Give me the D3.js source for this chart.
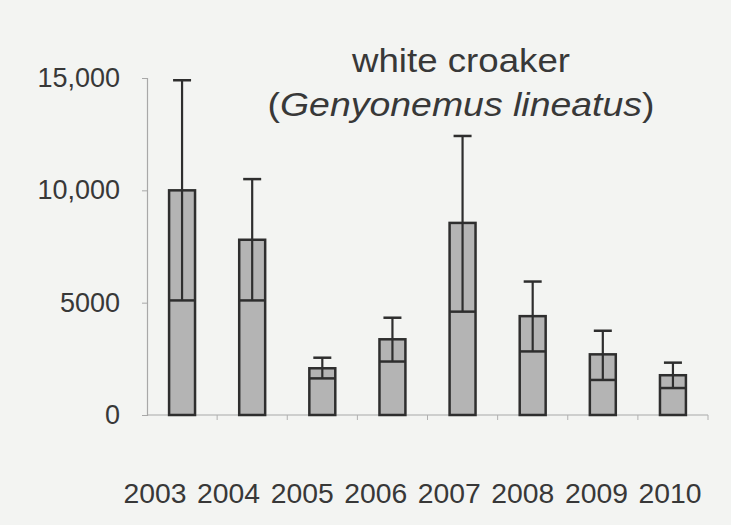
<!DOCTYPE html>
<html>
<head>
<meta charset="utf-8">
<script src="https://cdn.jsdelivr.net/npm/d3@7"></script>
<style>
  html, body { margin: 0; padding: 0; background: #f3f4f2; }
  svg { display: block; }
  text { font-family: "Liberation Sans", Arial, sans-serif; fill: #383838; }
</style>
</head>
<body>
<svg id="chart" width="731" height="525"></svg>
<script>
const years = ["2003","2004","2005","2006","2007","2008","2009","2010"];
const means = [10000, 7800, 2080, 3370, 8550, 4400, 2700, 1770];
const upper = [14900, 10500, 2550, 4330, 12420, 5940, 3750, 2330];
const lower = [5100, 5100, 1630, 2380, 4600, 2830, 1560, 1200];
const yTickValues = [0, 5000, 10000, 15000];
const yTickLabels = ["0", "5000", "10,000", "15,000"];
const titleLine1 = "white croaker";
const titleSpecies = "Genyonemus lineatus";

const svg = d3.select("#chart");
const plotLeft = 147, plotRight = 708, plotTop = 78, plotBottom = 415;

const x = d3.scaleBand().domain(years).range([plotLeft, plotRight]).paddingInner(0.63).paddingOuter(0.315);
const xLabel = d3.scalePoint().domain(years).range([155, 670]);
const y = d3.scaleLinear().domain([0, 15000]).range([plotBottom, plotTop]);

// y axis
const yAxis = d3.axisLeft(y).tickValues(yTickValues)
  .tickFormat((d, i) => yTickLabels[i]).tickSize(5).tickPadding(22);
const gy = svg.append("g").attr("transform", `translate(${plotLeft},0)`).call(yAxis);
gy.select(".domain").attr("stroke", "#a8a8a8").attr("stroke-width", 1.2);
gy.selectAll(".tick line").attr("stroke", "#a8a8a8");
gy.selectAll(".tick text").attr("font-size", 27).attr("fill", "#383838")
  .attr("font-family", "'Liberation Sans', Arial, sans-serif");

// x axis line
svg.append("line").attr("x1", plotLeft).attr("x2", plotRight).attr("y1", y(0)).attr("y2", y(0))
  .attr("stroke", "#a8a8a8").attr("stroke-width", 1.2);
// boundary ticks
const step = x.step();
svg.selectAll(".xb").data(d3.range(1, years.length + 1)).enter().append("line")
  .attr("x1", i => plotLeft + i * step).attr("x2", i => plotLeft + i * step)
  .attr("y1", y(0)).attr("y2", y(0) + 5)
  .attr("stroke", "#b0b0b0").attr("stroke-width", 1);

// bars
const bw = x.bandwidth();
const data = years.map((yr, i) => ({yr, m: means[i], u: upper[i], l: lower[i]}));
const g = svg.append("g");
g.selectAll("rect.bar").data(data).enter().append("rect")
  .attr("x", d => x(d.yr)).attr("y", d => y(d.m))
  .attr("width", bw).attr("height", d => y(0) - y(d.m))
  .attr("fill", "#b4b4b4").attr("stroke", "#2e2e2e").attr("stroke-width", 2.5);
// lower whisker line across bar
g.selectAll("line.low").data(data).enter().append("line")
  .attr("x1", d => x(d.yr)).attr("x2", d => x(d.yr) + bw)
  .attr("y1", d => y(d.l)).attr("y2", d => y(d.l))
  .attr("stroke", "#2e2e2e").attr("stroke-width", 2.5);
// vertical error line
g.selectAll("line.err").data(data).enter().append("line")
  .attr("x1", d => x(d.yr) + bw / 2).attr("x2", d => x(d.yr) + bw / 2)
  .attr("y1", d => y(d.l)).attr("y2", d => y(d.u))
  .attr("stroke", "#2e2e2e").attr("stroke-width", 2.2);
// top cap
g.selectAll("line.cap").data(data).enter().append("line")
  .attr("x1", d => x(d.yr) + bw / 2 - 9).attr("x2", d => x(d.yr) + bw / 2 + 9)
  .attr("y1", d => y(d.u)).attr("y2", d => y(d.u))
  .attr("stroke", "#2e2e2e").attr("stroke-width", 2.5);

// x labels
svg.selectAll("text.xl").data(years).enter().append("text")
  .attr("class", "xl")
  .attr("x", d => xLabel(d)).attr("y", 503)
  .attr("text-anchor", "middle").attr("font-size", 27)
  .attr("textLength", 63).attr("lengthAdjust", "spacingAndGlyphs")
  .text(d => d);

// title
svg.append("text").attr("x", 461).attr("y", 72).attr("text-anchor", "middle")
  .attr("font-size", 34).attr("textLength", 218).attr("lengthAdjust", "spacingAndGlyphs")
  .text(titleLine1);
const t2 = svg.append("text").attr("x", 461).attr("y", 116).attr("text-anchor", "middle")
  .attr("font-size", 34).attr("textLength", 387).attr("lengthAdjust", "spacingAndGlyphs");
t2.append("tspan").text("(");
t2.append("tspan").attr("font-style", "italic").text(titleSpecies);
t2.append("tspan").text(")");
</script>
</body>
</html>
